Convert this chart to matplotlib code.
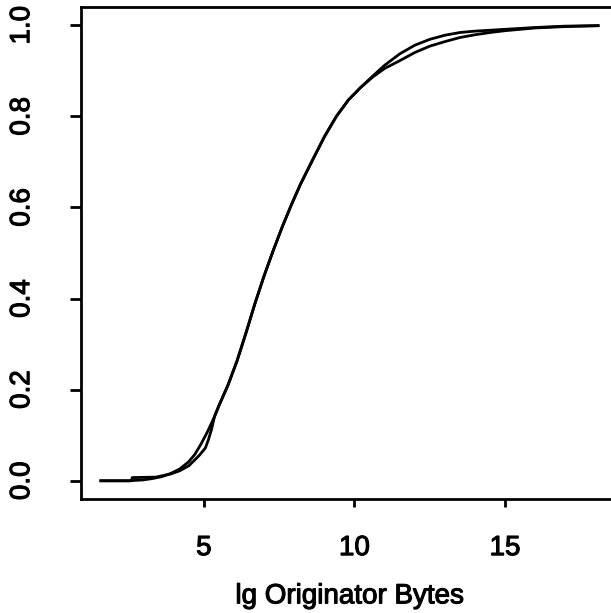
import numpy as np
import matplotlib
matplotlib.use('Agg')
import matplotlib.pyplot as plt
import matplotlib.patheffects as pe

plt.rcParams['font.family'] = ['Liberation Sans', 'DejaVu Sans']

x_emp = [1.58, 2.60, 2.62, 3.40, 3.90, 4.20, 4.50, 4.70, 4.85, 4.95, 5.05, 5.15,
         5.25, 5.35, 5.50, 5.80, 6.10, 6.40, 6.70, 7.00, 7.30, 7.60, 7.90, 8.20,
         8.60, 9.00, 9.40, 9.80, 10.20, 10.60, 11.00, 11.50, 12.00, 12.50,
         13.00, 13.50, 14.00, 14.50, 15.00, 16.00, 17.00, 18.09]
y_emp = [0.000, 0.000, 0.007, 0.008, 0.015, 0.022, 0.033, 0.046, 0.056, 0.064,
         0.072, 0.090, 0.112, 0.140, 0.165, 0.210, 0.263, 0.325, 0.390, 0.450,
         0.505, 0.557, 0.605, 0.650, 0.703, 0.755, 0.800, 0.836, 0.863, 0.886,
         0.905, 0.922, 0.940, 0.954, 0.964, 0.973, 0.979, 0.984, 0.988, 0.994,
         0.997, 0.999]

# fitted cdf
x_fit = [1.58, 2.50, 3.00, 3.30, 3.60, 3.90, 4.20, 4.50, 4.70, 4.90, 5.10, 5.30,
         5.50, 5.80, 6.10, 6.40, 6.70, 7.00, 7.30, 7.60, 7.90, 8.20, 8.60, 9.00,
         9.40, 9.80, 10.20, 10.60, 11.00, 11.50, 12.00, 12.50, 13.00, 13.50,
         14.00, 14.50, 15.00, 16.00, 17.00, 18.09]
y_fit = [0.000, 0.000, 0.002, 0.005, 0.009, 0.016, 0.026, 0.042, 0.058, 0.080,
         0.105, 0.133, 0.165, 0.210, 0.263, 0.325, 0.390, 0.450, 0.505, 0.557,
         0.605, 0.650, 0.703, 0.755, 0.800, 0.836, 0.863, 0.888, 0.912, 0.937,
         0.956, 0.969, 0.978, 0.984, 0.987, 0.989, 0.991, 0.995, 0.998, 0.999]

xticks = [5, 10, 15]
yticks = [0.0, 0.2, 0.4, 0.6, 0.8, 1.0]

thick = [pe.withStroke(linewidth=0.8, foreground='black')]

fig = plt.figure(figsize=(6.11, 6.13), dpi=100)
ax = fig.add_axes([81/611, 114/613, 537/611, 492/613])
ax.plot(x_emp, y_emp, '-', color='black', lw=2)
ax.plot(x_fit, y_fit, '-', color='black', lw=2)

ax.set_xlim(0.92, 18.75)
ax.set_ylim(-0.04, 1.04)
ax.set_xticks(xticks)
ax.set_xticklabels([str(t) for t in xticks], fontsize=20, path_effects=thick)
ax.set_yticks(yticks)
ax.set_yticklabels(['%.1f' % t for t in yticks], fontsize=20,
                   rotation=90, va='center', path_effects=thick)
ax.tick_params(axis='x', length=6, width=2, pad=20)
ax.tick_params(axis='y', length=8, width=2, pad=25)
for s in ax.spines.values():
    s.set_linewidth(2)
ax.set_xlabel('lg Originator Bytes', fontsize=20, labelpad=16,
              path_effects=thick)

fig.savefig('out.png', dpi=100)
